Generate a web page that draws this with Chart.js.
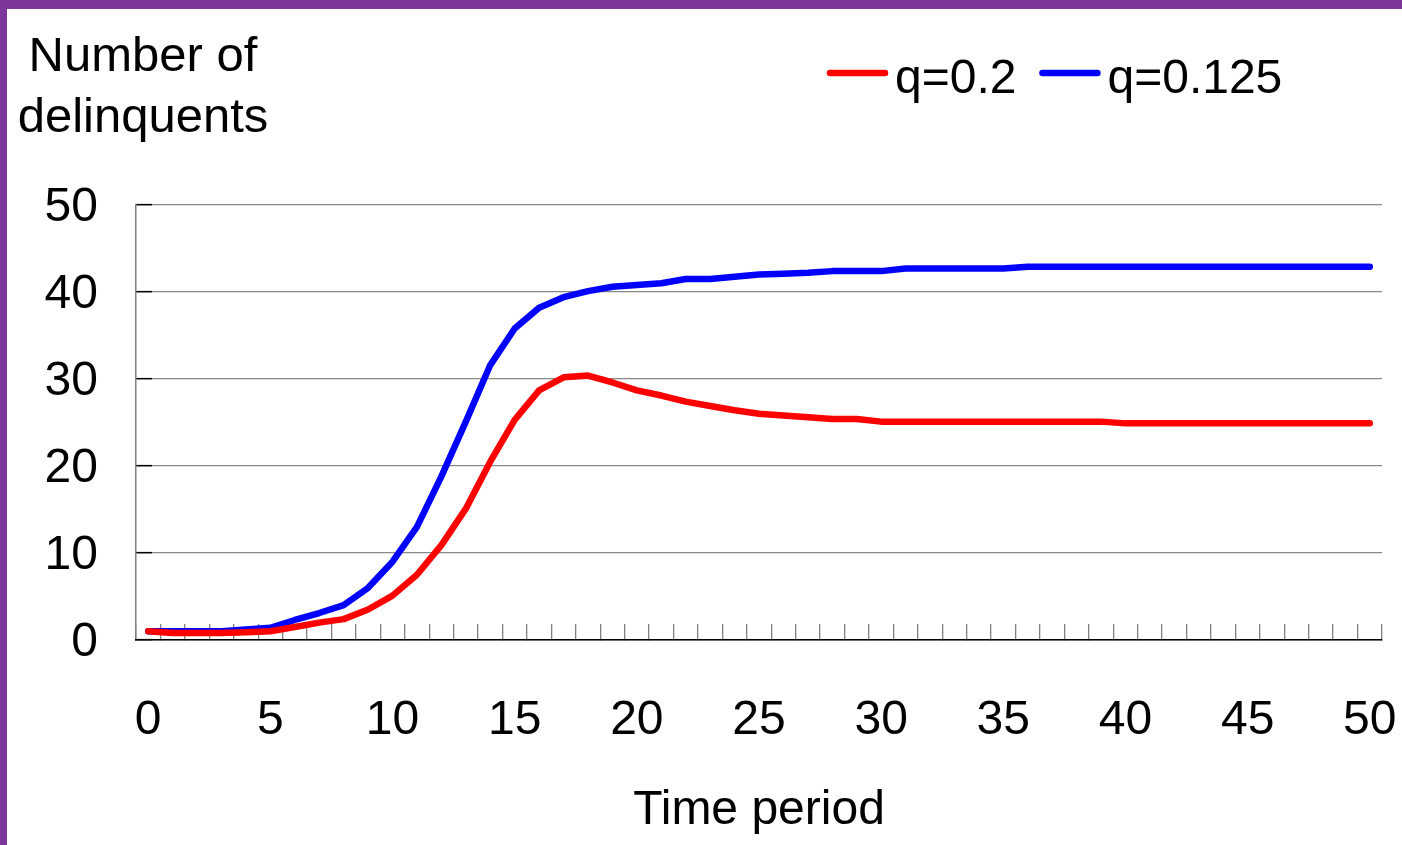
<!DOCTYPE html>
<html>
<head>
<meta charset="utf-8">
<script src="https://cdn.jsdelivr.net/npm/chart.js@4/dist/chart.umd.min.js"></script>
<style>
  html, body { margin: 0; padding: 0; background: #ffffff; }
  #wrap { position: relative; width: 1402px; height: 845px; overflow: hidden; }
  #chart { position: absolute; left: 0; top: 0; }
  .bar { position: absolute; background: #7d379c; }
  #barTop { left: 0; top: 0; width: 1402px; height: 9px; }
  #barLeft { left: 0; top: 0; width: 7px; height: 845px; }
</style>
</head>
<body>
<div id="wrap">
  <canvas id="chart" width="1402" height="845"></canvas>
  <div class="bar" id="barTop"></div>
  <div class="bar" id="barLeft"></div>
</div>
<script>
// Time periods on the horizontal axis
const timePeriods = ['0','1','2','3','4','5','6','7','8','9','10','11','12','13','14','15','16','17','18','19','20',
  '21','22','23','24','25','26','27','28','29','30','31','32','33','34','35','36','37','38','39','40',
  '41','42','43','44','45','46','47','48','49','50'];

// Number of delinquents, q = 0.2
const delinquentsQ02 = [1.0, 0.8, 0.8, 0.8, 0.9, 1.0, 1.5, 2.0, 2.4, 3.5, 5.1, 7.5, 10.9, 15.1, 20.5, 25.3, 28.7, 30.2, 30.4, 29.6,
  28.7, 28.1, 27.4, 26.9, 26.4, 26.0, 25.8, 25.6, 25.4, 25.4, 25.1, 25.1, 25.1, 25.1, 25.1, 25.1, 25.1, 25.1, 25.1, 25.1,
  24.9, 24.9, 24.9, 24.9, 24.9, 24.9, 24.9, 24.9, 24.9, 24.9, 24.9];

// Number of delinquents, q = 0.125
const delinquentsQ0125 = [1.0, 1.0, 1.0, 1.0, 1.2, 1.4, 2.3, 3.1, 4.0, 6.0, 9.0, 13.0, 18.8, 25.1, 31.6, 35.8, 38.2, 39.4, 40.1, 40.6,
  40.8, 41.0, 41.5, 41.5, 41.75, 42.0, 42.1, 42.2, 42.4, 42.4, 42.4, 42.7, 42.7, 42.7, 42.7, 42.7, 42.9, 42.9, 42.9, 42.9,
  42.9, 42.9, 42.9, 42.9, 42.9, 42.9, 42.9, 42.9, 42.9, 42.9, 42.9];

// Labelled ticks
const xTickLabels = ['0','5','10','15','20','25','30','35','40','45','50'];
const yMin = 0, yMax = 50, yStep = 10;

const seriesLabels = ['q=0.2', 'q=0.125'];
const seriesColors = ['#ff0000', '#0000ff'];

const FONT = '"Liberation Sans", Arial, sans-serif';
const FONT_SIZE = 48;
Chart.defaults.font.family = FONT;
Chart.defaults.font.size = FONT_SIZE;
Chart.defaults.color = '#000000';

// Two-line caption above the value axis
const axisCaption = {
  id: 'axisCaption',
  afterDraw(chart) {
    const ctx = chart.ctx;
    ctx.save();
    ctx.font = '49px ' + FONT;
    ctx.fillStyle = '#000000';
    ctx.textAlign = 'center';
    ctx.textBaseline = 'alphabetic';
    ctx.fillText('Number of', 143, 71);
    ctx.fillText('delinquents', 143, 132);
    ctx.restore();
  }
};

// Line legend in the top right corner
const lineLegend = {
  id: 'lineLegend',
  afterDraw(chart) {
    const ctx = chart.ctx;
    ctx.save();
    ctx.font = FONT_SIZE + 'px ' + FONT;
    ctx.textAlign = 'left';
    ctx.textBaseline = 'alphabetic';
    let x = 830;
    chart.data.datasets.forEach(ds => {
      ctx.strokeStyle = ds.borderColor;
      ctx.lineWidth = ds.borderWidth;
      ctx.lineCap = 'round';
      ctx.beginPath();
      ctx.moveTo(x, 73);
      ctx.lineTo(x + 55, 73);
      ctx.stroke();
      ctx.fillStyle = '#000000';
      ctx.fillText(ds.label, x + 65, 93);
      x += 65 + ctx.measureText(ds.label).width + 26;
    });
    ctx.restore();
  }
};

new Chart(document.getElementById('chart'), {
  type: 'line',
  data: {
    labels: timePeriods,
    datasets: [
      {
        label: seriesLabels[0],
        data: delinquentsQ02,
        borderColor: seriesColors[0],
        backgroundColor: seriesColors[0],
        borderWidth: 6.5,
        borderCapStyle: 'round',
        borderJoinStyle: 'round',
        pointRadius: 0,
        tension: 0,
        fill: false
      },
      {
        label: seriesLabels[1],
        data: delinquentsQ0125,
        borderColor: seriesColors[1],
        backgroundColor: seriesColors[1],
        borderWidth: 6.5,
        borderCapStyle: 'round',
        borderJoinStyle: 'round',
        pointRadius: 0,
        tension: 0,
        fill: false
      }
    ]
  },
  options: {
    responsive: false,
    animation: false,
    layout: { padding: { top: 205, right: 20, bottom: 0, left: 0 } },
    plugins: {
      legend: { display: false },
      tooltip: { enabled: false },
      title: { display: false }
    },
    scales: {
      x: {
        type: 'category',
        offset: true,
        grid: {
          offset: true,
          drawOnChartArea: false,
          drawTicks: true,
          tickLength: -16,
          tickColor: '#808080',
          lineWidth: 1.3
        },
        border: { display: true, color: '#000000', width: 1.5, z: 1 },
        ticks: {
          autoSkip: false,
          maxRotation: 0,
          minRotation: 0,
          padding: 68,
          callback: function (value, index) {
            const lab = this.getLabelForValue(value);
            return xTickLabels.includes(lab) ? lab : '';
          }
        },
        title: {
          display: true,
          text: 'Time period',
          padding: { top: 0, bottom: 5 }
        },
        afterFit(scale) {
          scale.height = 205;
          scale.paddingLeft = 0;
          scale.paddingRight = 0;
        }
      },
      y: {
        min: yMin,
        max: yMax,
        grid: {
          color: '#888888',
          lineWidth: 1.3,
          drawTicks: true,
          tickLength: -16,
          tickColor: '#000000',
          tickWidth: 1.5
        },
        border: { display: true, color: '#808080', width: 1.5 },
        ticks: {
          stepSize: yStep,
          padding: 54,
          labelOffset: 3
        },
        afterFit(scale) { scale.width = 136; }
      }
    }
  },
  plugins: [axisCaption, lineLegend]
});
</script>
</body>
</html>
